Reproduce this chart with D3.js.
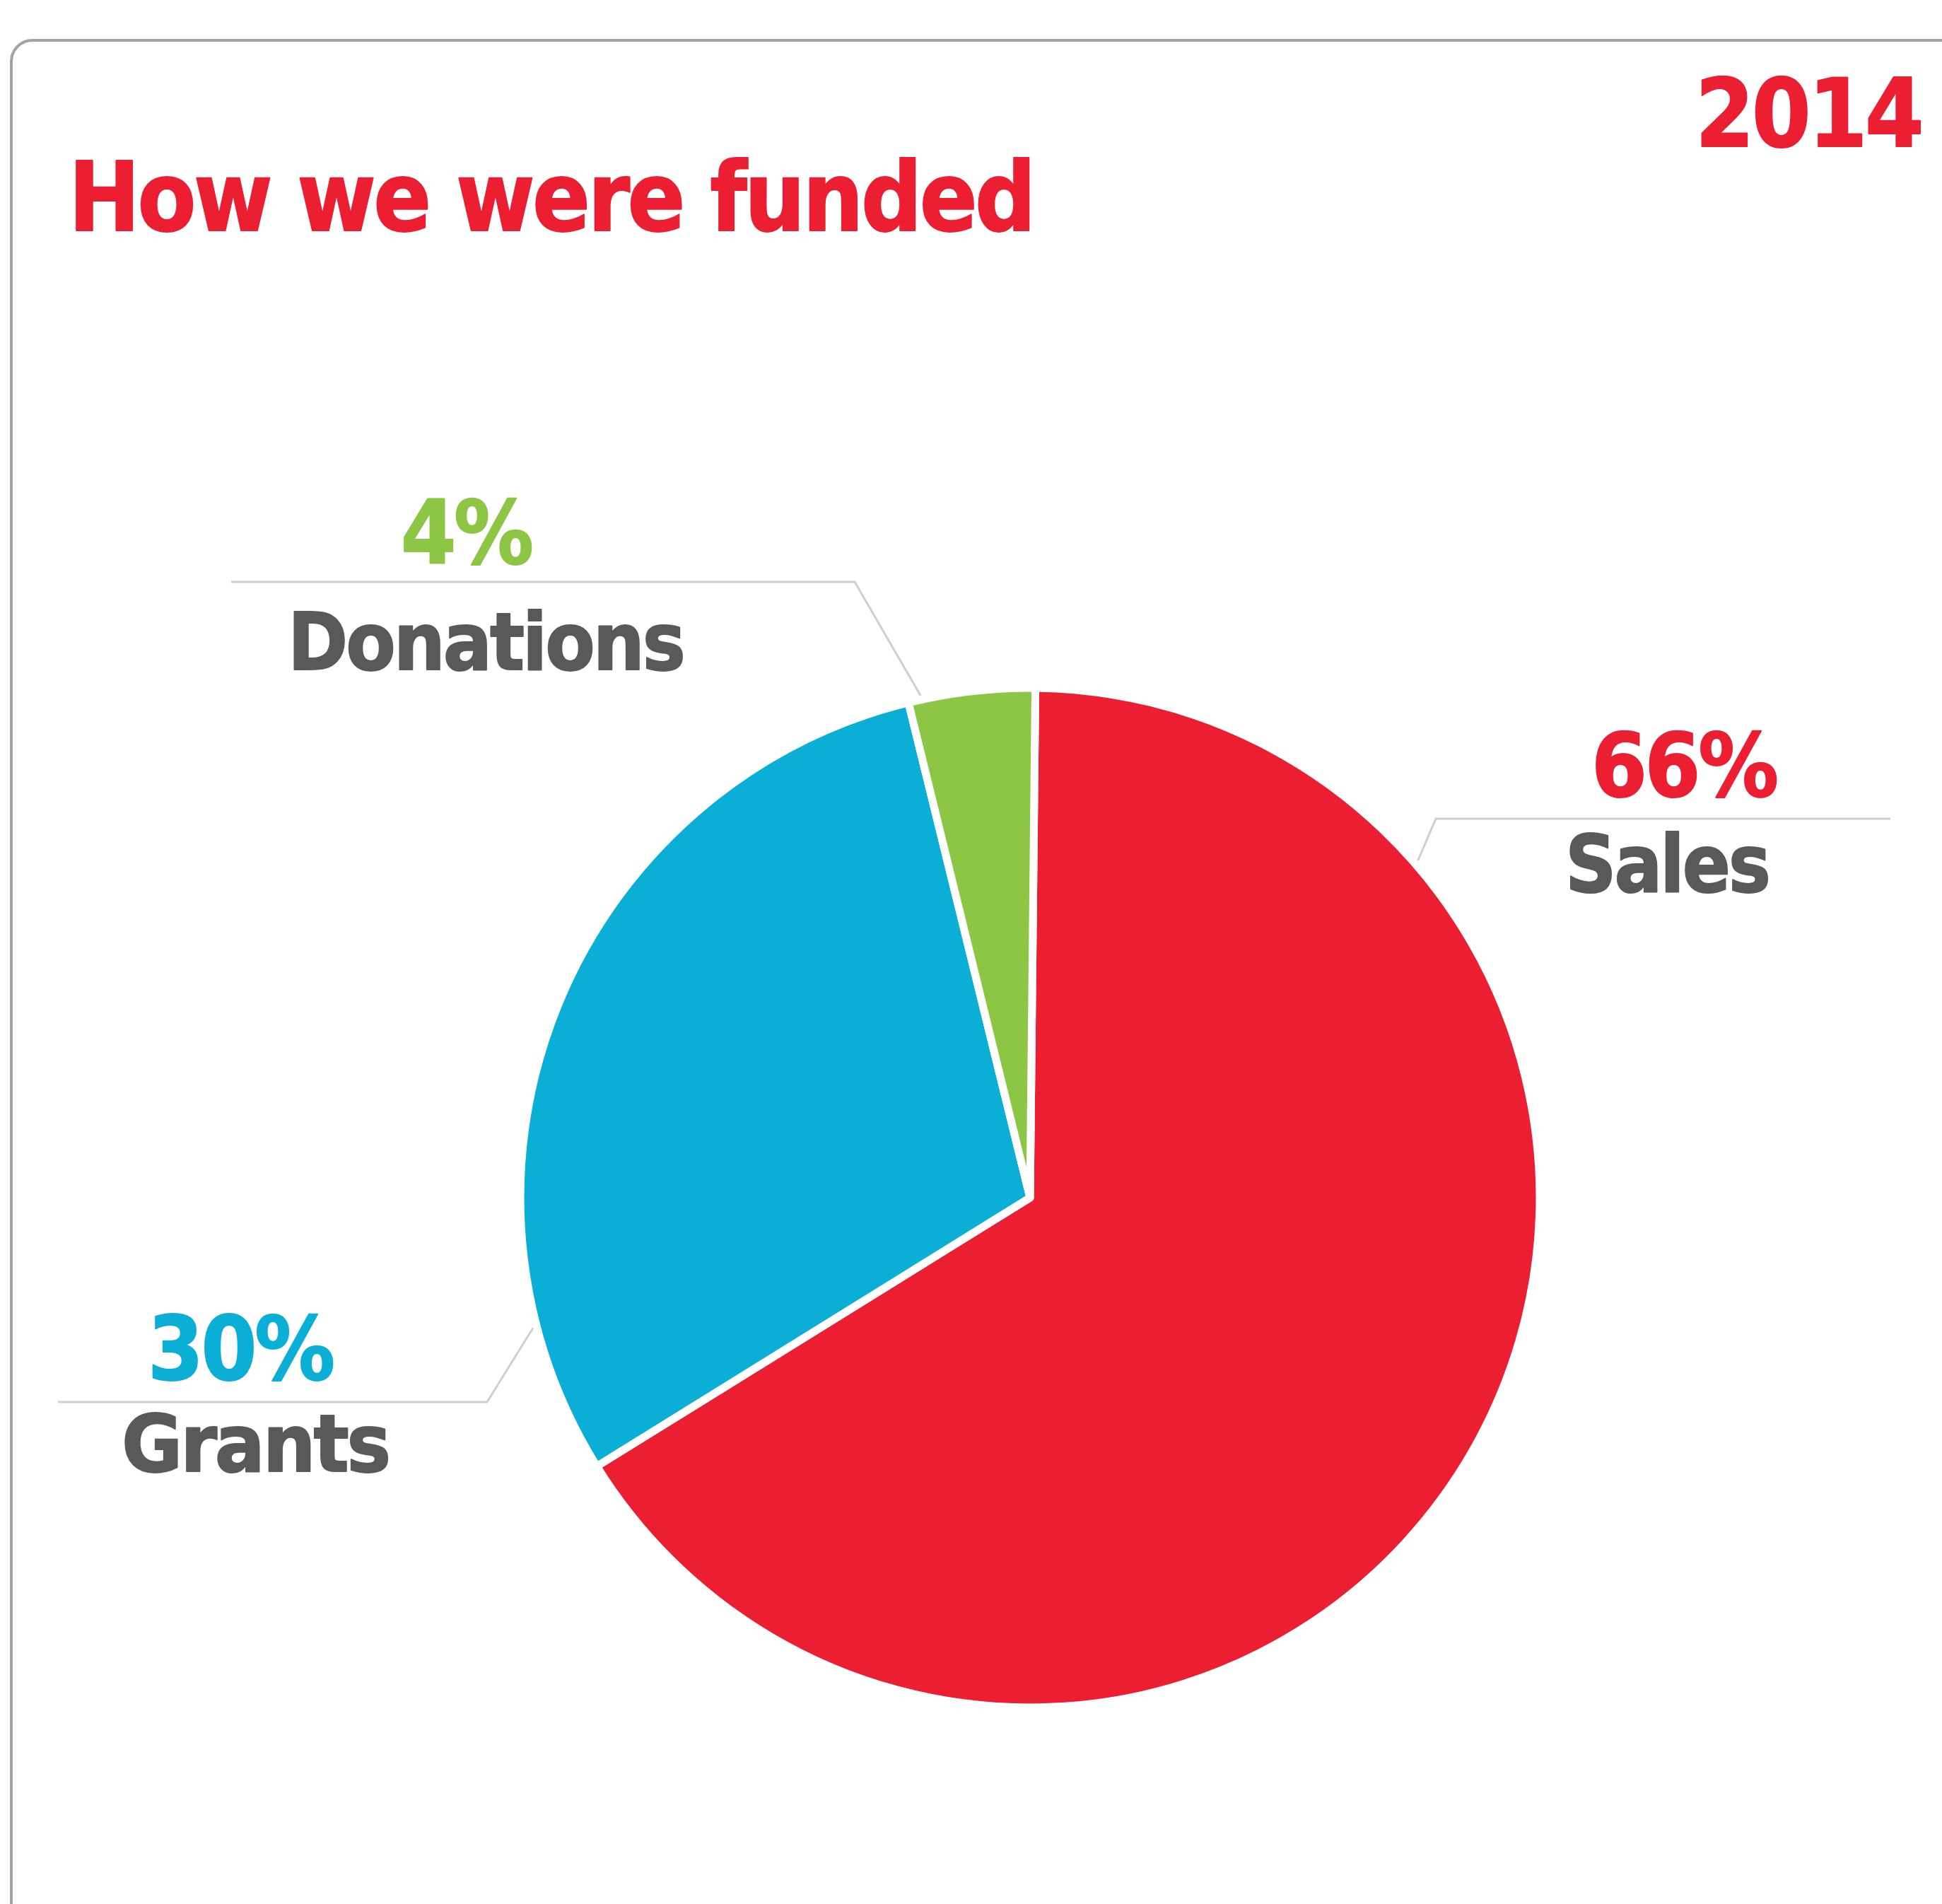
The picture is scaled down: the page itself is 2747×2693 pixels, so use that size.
<!DOCTYPE html>
<html>
<head>
<meta charset="utf-8">
<title>How we were funded</title>
<script src="https://cdn.jsdelivr.net/npm/d3@7"></script>
<style>
	body { margin: 0; background: #fff; }
	svg { display: block; }
	text {
		font-family: 'DejaVu Sans', 'Open Sans', sans-serif;
		font-weight: 700;
		font-variant-ligatures: none;
		letter-spacing: -0.03em;
		stroke-linejoin: round;
	}
</style>
</head>
<body>
<div id="chart"></div>
<script>
'use strict';

//chart data
var categories = ['Sales', 'Grants', 'Donations'],
	shares = [66, 30, 4],
	shareLabels = ['66%', '30%', '4%'],
	titleText = 'How we were funded',
	yearText = '2014';

//look
var colours = {
		Sales: '#ec1e32',
		Grants: '#0bafd6',
		Donations: '#8dc544'
	},
	textGrey = '#58595b',
	width = 2747,
	height = 2693,
	centre = [1457, 1694],
	radius = 721,
	startDeg = 0.6,

	//label placement, one entry per category: [left, baseline, ink width]
	labelLayout = {
		Sales: {
			tipDeg: 49, elbow: [2031, 1158], lineTo: 2674,
			pct: [2251, 1126, 262], name: [2214, 1261, 288]
		},
		Grants: {
			tipDeg: 255.3, elbow: [689, 1983], lineTo: 82,
			pct: [209, 1951, 262], name: [172, 2081, 378]
		},
		Donations: {
			tipDeg: 347.7, elbow: [1209, 823], lineTo: 327,
			pct: [567, 797, 185], name: [407, 947, 560]
		}
	};

var svg = d3.select('#chart').append('svg')
	.attr('width', width)
	.attr('height', height);

svg.append('rect')
	.attr('width', width)
	.attr('height', height)
	.attr('fill', '#fff');

//card outline, runs off the right and bottom edges
svg.append('rect')
	.attr('x', 16)
	.attr('y', 57)
	.attr('width', width + 60)
	.attr('height', height + 60)
	.attr('rx', 30)
	.attr('fill', 'none')
	.attr('stroke', '#a3a3a3')
	.attr('stroke-width', 4);

//puts text with its ink from x to x + w, squeezing glyphs sideways to fit;
//a thin stroke in the fill colour thickens it a little towards the heavy original face
function fitText(str, x, y, w, size, fill) {
	var t = svg.append('text')
			.text(str)
			.attr('font-size', size)
			.attr('fill', fill),
		box = t.node().getBBox(),
		sx = w / box.width;

	t.attr('transform', 'translate(' + (x - box.x * sx) + ',' + y + ') scale(' + sx + ',1)')
		.attr('stroke', fill)
		.attr('stroke-width', 2);
	return t;
}

//headings
fitText(titleText, 97, 326, 1365, 135, '#ec1e32');
fitText(yearText, 2398, 207, 320, 134, '#ec1e32');

//pie
var rad = Math.PI / 180,
	pie = d3.pie()
		.sort(null)
		.value(function(d) { return d.share; })
		.startAngle(startDeg * rad)
		.endAngle(startDeg * rad + 2 * Math.PI),
	arc = d3.arc()
		.innerRadius(0)
		.outerRadius(radius),
	rows = categories.map(function(c, i) {
		return { category: c, share: shares[i], label: shareLabels[i] };
	});

var pieGroup = svg.append('g')
	.attr('transform', 'translate(' + centre[0] + ',' + centre[1] + ')');

pieGroup.selectAll('path')
	.data(pie(rows))
	.enter()
	.append('path')
	.attr('d', arc)
	.attr('fill', function(d) { return colours[d.data.category]; })
	.attr('stroke', '#fff')
	.attr('stroke-width', 11)
	.attr('stroke-linejoin', 'round');

//leader lines and labels
function drawLabel(row) {
	var lay = labelLayout[row.category],
		tip = d3.pointRadial(lay.tipDeg * rad, radius + 6),
		pts = [
			[centre[0] + tip[0], centre[1] + tip[1]],
			lay.elbow,
			[lay.lineTo, lay.elbow[1]]
		];

	svg.append('path')
		.attr('d', d3.line()(pts))
		.attr('fill', 'none')
		.attr('stroke', '#cfcfcf')
		.attr('stroke-width', 3);

	fitText(row.label, lay.pct[0], lay.pct[1], lay.pct[2], 124, colours[row.category]);
	fitText(row.category, lay.name[0], lay.name[1], lay.name[2], 113, textGrey);
}

rows.forEach(drawLabel);
</script>
</body>
</html>
